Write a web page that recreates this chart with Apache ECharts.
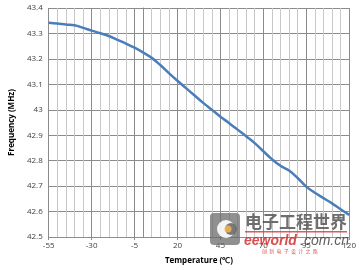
<!DOCTYPE html>
<html><head><meta charset="utf-8">
<script src="https://cdn.jsdelivr.net/npm/echarts@6/dist/echarts.min.js"></script>
<style>html,body{margin:0;padding:0;background:#fff}#c{width:359px;height:270px}</style>
</head><body><div id="c"></div>
<script>
var temperatures = [-55,-50,-45,-40,-35,-30,-25,-20,-15,-10,-5,0,5,10,15,20,25,30,35,40,45,50,55,60,65,70,75,80,85,90,95,100,105,110,115,120];
var frequencies = [43.342,43.339,43.335,43.332,43.322,43.311,43.301,43.290,43.275,43.260,43.244,43.225,43.204,43.176,43.144,43.114,43.085,43.056,43.027,43.000,42.973,42.948,42.922,42.896,42.869,42.837,42.806,42.780,42.761,42.732,42.698,42.674,42.653,42.632,42.609,42.587];
var xTitle = 'Temperature (℃)';
var yTitle = 'Frequency (MHz)';

var data = temperatures.map(function(t,i){return [t, frequencies[i]];});
var chart = echarts.init(document.getElementById('c'), null, {renderer:'canvas'});
var font = 'Open Sans, Liberation Sans, sans-serif';
chart.setOption({
  animation:false,
  grid:{left:38,right:5,top:8,bottom:32,containLabel:false},
  xAxis:{type:'value',min:-55,max:120,interval:25,
    axisLine:{show:true,lineStyle:{color:'#8c8c8c',width:1}},
    axisTick:{show:true,length:3,lineStyle:{color:'#8c8c8c'}},
    minorTick:{show:false,splitNumber:5},
    splitLine:{show:true,lineStyle:{color:'#8c8c8c',width:1}},
    minorSplitLine:{show:true,lineStyle:{color:'#c8c8c8',width:1}},
    axisLabel:{color:'#404040',fontSize:8,fontFamily:font,margin:5},
    name:xTitle,nameLocation:'middle',nameGap:20,
    nameTextStyle:{color:'#000',fontSize:8,fontWeight:'bold',fontFamily:font}
  },
  yAxis:{type:'value',min:42.5,max:43.4,interval:0.1,
    axisLine:{show:true,lineStyle:{color:'#8c8c8c',width:1}},
    axisTick:{show:true,length:3,lineStyle:{color:'#8c8c8c'}},
    splitLine:{show:true,lineStyle:{color:'#8c8c8c',width:1}},
    axisLabel:{color:'#404040',fontSize:8,fontFamily:font,margin:6},
    name:yTitle,nameLocation:'middle',nameGap:28,nameRotate:90,
    nameTextStyle:{color:'#000',fontSize:8,fontWeight:'bold',fontFamily:font}
  },
  series:[{type:'line',data:data,smooth:0.4,symbol:'none',
    lineStyle:{color:'#4a7ebb',width:2.5}}],
  graphic:[
    {type:'rect',shape:{x:210,y:213,width:30,height:32,r:4},style:{fill:'#6b6b6b',opacity:0.75},z:100},
    {type:'circle',shape:{cx:226,cy:229,r:9},style:{fill:'#ffffff',opacity:0.9},z:101},
    {type:'circle',shape:{cx:231,cy:229,r:6},style:{fill:'#6b6b6b',opacity:0.9},z:102},
    {type:'circle',shape:{cx:228,cy:229,r:3.5},style:{fill:'#f0b050',opacity:0.9},z:103},
    {type:'text',x:245,y:213,style:{text:'电子工程世界',font:'bold 17px "Noto Sans CJK SC"',fill:'#555555',opacity:0.85},z:100},
    {type:'rect',shape:{x:245,y:231,width:102,height:1.5},style:{fill:'#d84040',opacity:0.85},z:100},
    {type:'text',x:244,y:234,style:{text:'eeworld',font:'italic bold 14px "Liberation Sans"',fill:'#d03030',opacity:0.85},z:100},
    {type:'text',x:300,y:234,style:{text:'.com.cn',font:'italic 14px "Liberation Sans"',fill:'#444444',opacity:0.85},z:100},
    {type:'text',x:262,y:249,style:{text:'创  新  电  子  设  计  之  路',font:'5px "Noto Sans CJK SC"',fill:'#d04040',opacity:0.85},z:100}
  ]
});
</script></body></html>
